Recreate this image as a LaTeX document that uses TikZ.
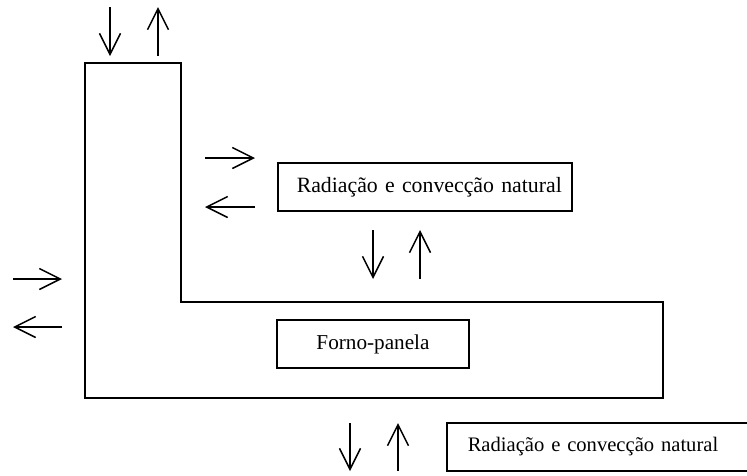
\documentclass[tikz,border=0pt]{standalone}
\usepackage{fontspec}
\setmainfont{Liberation Serif}
\usetikzlibrary{arrows.meta}
\begin{document}
\begin{tikzpicture}[x=1pt,y=-1pt,line width=1.5pt,line join=miter,
  flux/.style={-{Straight Barb[length=21pt,width=21pt,line join=miter]}},
  labelbox/.style={draw,rectangle,inner ysep=0pt,inner xsep=0pt,minimum height=48pt,align=left},
  bigtext/.style={font=\fontsize{21.8}{26}\selectfont},
  midtext/.style={font=\fontsize{21.2}{25}\selectfont},
  smalltext/.style={font=\fontsize{20.6}{25}\selectfont}]
\useasboundingbox (0,0) rectangle (747,475);
\clip (0,0) rectangle (747,475);
\fill[white] (0,0) rectangle (747,475);
% L-shaped oven
\coordinate (L1) at (85,63);
\coordinate (L2) at (181,63);
\coordinate (L3) at (181,302);
\coordinate (L4) at (663,302);
\coordinate (L5) at (663,398);
\coordinate (L6) at (85,398);
\draw (L1) -- (L2) -- (L3) -- (L4) -- (L5) -- (L6) -- cycle;
% boxes
\node[labelbox,bigtext,anchor=west,text width=294pt] (rad1) at (277,187) {\hspace*{19pt}\mbox{Radiação e convecção natural}};
\node[draw,rectangle,midtext,minimum width=192pt,minimum height=48pt,inner sep=0pt] (forno) at (373,344) {Forno-panela};
\node[labelbox,smalltext,anchor=west,text width=340pt] (rad2) at (446,447) {\hspace*{21pt}\mbox{Radiação e convecção natural}};
% arrow end points
\coordinate (a1s) at (110,7);   \coordinate (a1e) at (110,56);
\coordinate (a2s) at (158,56);  \coordinate (a2e) at (158,7);
\coordinate (b1s) at (205,158); \coordinate (b1e) at (255,158);
\coordinate (b2s) at (255,207); \coordinate (b2e) at (205,207);
\coordinate (c1s) at (373,230); \coordinate (c1e) at (373,279);
\coordinate (c2s) at (420,279); \coordinate (c2e) at (420,230);
\coordinate (d1s) at (13,279);  \coordinate (d1e) at (62,279);
\coordinate (d2s) at (62,327);  \coordinate (d2e) at (13,327);
\coordinate (e1s) at (350,423); \coordinate (e1e) at (350,471);
\coordinate (e2s) at (398,471); \coordinate (e2e) at (398,423);
\foreach \p in {a1,a2,b1,b2,c1,c2,d1,d2,e1,e2}
  \draw[flux] (\p s) -- (\p e);
\end{tikzpicture}
\end{document}
